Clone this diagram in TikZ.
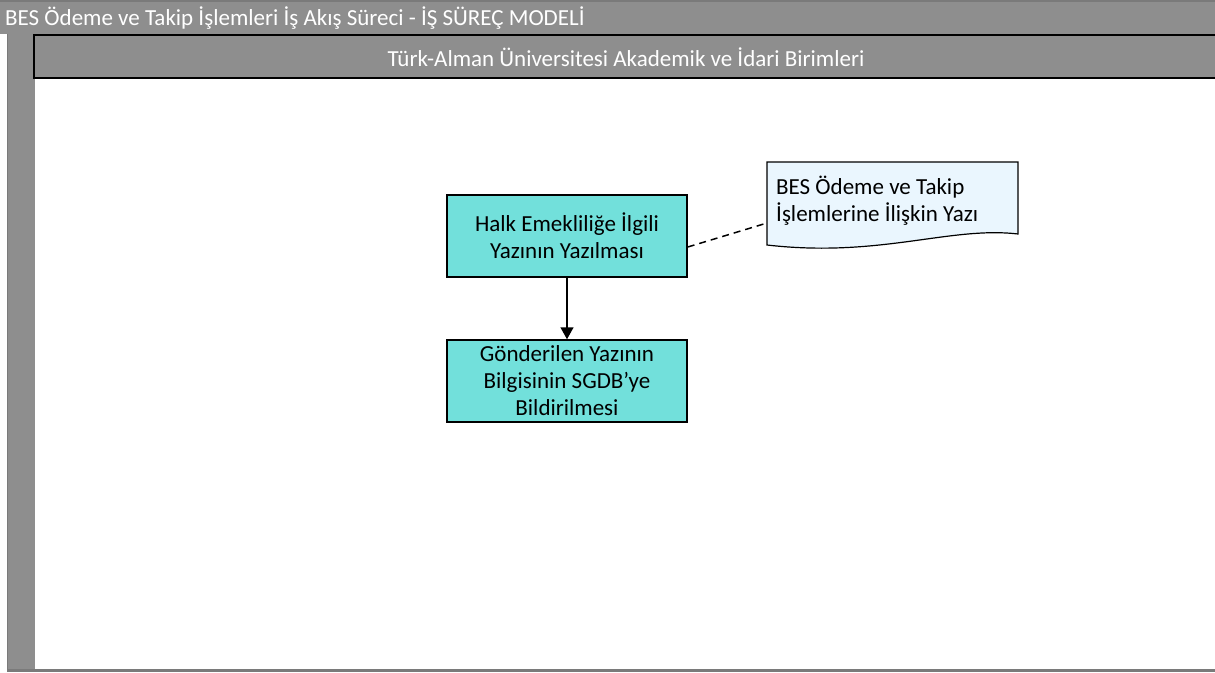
\documentclass[tikz,border=0pt]{standalone}
\usepackage{fontspec}
\setmainfont{Carlito}
\usepackage{tikz}
\usetikzlibrary{arrows.meta}

\definecolor{poolgray}{HTML}{8E8E8E}
\definecolor{edgegray}{HTML}{7A7A7A}
\definecolor{taskcyan}{HTML}{72E0DB}
\definecolor{docblue}{HTML}{EAF6FE}

\begin{document}
\begin{tikzpicture}[x=1pt,y=-1pt]
		\useasboundingbox (0,0) rectangle (1215,672);

		% havuz ve kulvar
		\fill[poolgray] (0,0) rectangle (1215,34);
		\draw[edgegray,line width=1.5pt] (0,0.75) -- (1215,0.75);
		\fill[poolgray] (7,34) rectangle (35,670);
		\draw[edgegray,line width=2.5pt] (7,670.5) -- (1215,670.5);
		\draw[edgegray,line width=1pt] (7.5,34) -- (7.5,670);
		\node[anchor=base west,inner sep=0pt,text=white,font=\fontsize{23}{27}\selectfont] (havuz) at (5,25)
			{BES Ödeme ve Takip İşlemleri İş Akış Süreci - İŞ SÜREÇ MODELİ};
		\draw[fill=poolgray,line width=2pt] (34,35) rectangle (1218,78);
		\node[text=white,font=\fontsize{23}{27}\selectfont] (kulvar) at (626,57)
			{Türk-Alman Üniversitesi Akademik ve İdari Birimleri};

		% adimlar
		\begin{scope}[every node/.style={rectangle,draw=black,line width=1.5pt,fill=taskcyan,
				minimum width=240pt,minimum height=82pt,align=center,
				font=\fontsize{23}{27}\selectfont}]
			\node (halk) at (567,236) {Halk Emekliliğe İlgili\\Yazının Yazılması};
			\node (sgdb) at (567,381) {Gönderilen Yazının\\Bilgisinin SGDB’ye\\Bildirilmesi};
		\end{scope}

		% belge
		\draw[line width=1.2pt,fill=docblue] (767,162) -- (1018,162) -- (1018,234)
			.. controls (950,226) and (880,258) .. (767,245) -- cycle;
		\node[anchor=base west,align=left,font=\fontsize{23}{27}\selectfont,inner sep=0pt] (yazi) at (776,221)
			{BES Ödeme ve Takip\\İşlemlerine İlişkin Yazı};
		\coordinate (yazisol) at (767,223);

		% baglantilar
		\draw[-{Triangle[length=12pt,width=13pt]},line width=1.5pt] (halk) -- (sgdb);
		\draw[dashed,line width=1.5pt,dash pattern=on 7pt off 5pt] ([yshift=-11pt]halk.east) -- (yazisol);
\end{tikzpicture}
\end{document}
